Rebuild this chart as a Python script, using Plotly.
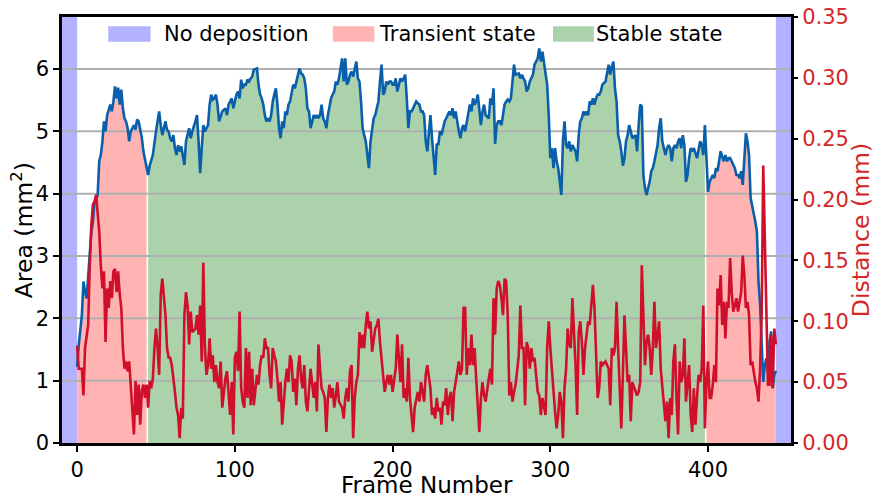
import plotly.graph_objects as go

# ---- data -------------------------------------------------------------
frames_area = [
    0, 1, 3, 4, 5, 6, 7, 8, 9, 10, 11, 12, 13, 14, 15, 16, 17, 18, 19, 21, 22, 23, 24, 25, 26, 27, 28, 29, 30,
    31, 32, 33, 34, 35, 36, 37, 38, 39, 41, 42, 43, 44, 45, 46,
    48, 50, 52, 53, 54, 56, 57, 58, 59, 60, 61, 62, 63, 64, 65, 66, 67, 68, 69, 70, 71, 72, 73, 75, 76, 77,
    78, 79, 80, 81, 82, 83, 84, 85, 86, 87, 88, 89, 90, 91, 92, 94, 95, 96, 97, 98, 99, 100, 101, 102, 103,
    104, 105, 106,
    107, 108, 109, 110, 111, 112, 114, 115, 116, 117, 118, 119, 120, 121, 122, 123, 124, 125, 126, 127, 128,
    129, 130, 131, 132, 133, 134, 135, 136, 137, 138, 139, 140, 141, 142, 143, 144, 145, 146, 147, 148, 150,
    151, 152, 153, 154, 155, 156, 157, 158, 159,
    160, 161, 162, 163, 164, 165, 166, 168, 169, 170, 171, 172, 173, 174, 175, 176, 177, 178, 179, 180, 181,
    182, 183, 184, 185, 186, 187, 188, 189, 190, 191, 192, 193, 194, 195, 196, 197, 198, 199, 200, 201, 202,
    203, 205, 206, 207, 208, 209, 210, 211, 212, 213, 214, 215, 216, 217, 218,
    219, 220, 221, 222, 223, 224, 225, 226, 227, 228, 229, 230, 231, 232, 233, 234, 235, 236, 237, 238, 239,
    240, 242, 243, 244, 245, 246, 247, 248, 249, 250, 251, 252, 253, 254, 255, 256, 257, 258, 259, 261, 262,
    263, 264, 265, 266, 267, 268, 269, 270, 271, 272, 273, 274, 275, 276, 277,
    278, 280, 281, 282, 283, 284, 285, 286, 287, 288, 289, 290, 291, 292, 293, 294, 295, 297, 298, 299, 300,
    301, 302, 303, 304, 305, 306, 307, 308, 309, 310, 311, 312, 313, 314, 316, 317, 318, 319, 320, 321, 322,
    323, 324, 325, 326, 327, 328, 329, 330, 331, 332, 333, 335,
    337, 338, 339, 340, 341, 342, 343, 344, 345, 346, 347, 348, 349, 350, 351, 352, 354, 355, 356, 357, 358,
    359, 360, 361, 362, 363, 364, 365, 366, 367, 368, 369, 370, 371, 373, 374, 375, 376, 377, 378, 379, 380,
    381, 382, 383, 384, 385, 386, 387, 388, 389, 390, 391,
    393, 394, 395, 396, 397, 398, 399, 400, 401, 402, 403, 404, 405, 406, 407, 408, 410, 411, 412, 413, 414,
    415, 416, 417, 418, 419, 420, 421, 422, 423, 424, 425, 426, 427, 428, 429, 430, 431, 432, 433, 434, 435,
    436, 437, 438, 439, 440, 441, 442, 443,
]
area_mm2 = [
    1.22, 1.57, 2.05, 2.59, 2.43, 2.32, 2.67, 3.12, 3.39, 3.55, 3.87, 3.90, 3.98, 4.52, 4.62, 4.83, 5.16, 5.00,
    5.26, 5.43, 5.32, 5.48, 5.72, 5.53, 5.70, 5.43, 5.67, 5.37, 5.21,
    5.16, 5.05, 4.84, 5.00, 5.05, 5.10, 5.03, 5.19, 5.16, 4.90, 4.68, 4.57, 4.45, 4.30, 4.45,
    4.62, 5.00, 5.32, 5.10, 4.94, 5.16, 5.02, 5.00, 4.89, 4.84, 4.94, 4.73, 4.62, 4.78, 4.68, 4.76, 4.62, 4.46,
    4.84, 4.94, 5.05, 4.89, 5.00, 5.16, 5.26, 4.84,
    4.33, 4.73, 5.10, 5.00, 5.05, 5.10, 5.43, 5.59, 5.51, 5.53, 5.59, 5.43, 5.16, 5.26, 5.32, 5.37, 5.26, 5.43,
    5.48, 5.53, 5.37, 5.48, 5.59, 5.64, 5.53,
    5.83, 5.69, 5.75,
    5.75, 5.83, 5.80, 5.85, 5.88, 5.99, 6.01, 5.75, 5.59, 5.53, 5.43, 5.26, 5.16, 5.21, 5.16, 5.26, 5.48, 5.59,
    5.69, 5.43, 5.05,
    4.89, 5.16, 5.05, 5.32, 5.26, 5.43, 5.48, 5.64, 5.75, 5.69, 5.80, 5.91, 6.01, 5.93, 5.91, 5.85, 5.69, 5.37,
    5.32, 5.05, 5.26,
    5.21, 5.26, 5.21, 5.26, 5.43, 5.21, 5.16, 5.05, 5.26,
    5.43, 5.53, 5.59, 5.64, 5.80, 5.75, 5.85, 6.17, 5.80, 6.17, 5.75, 5.80, 5.91, 5.96, 5.88, 6.01, 6.12, 5.85,
    5.80, 5.48, 5.05,
    4.94, 4.84, 4.62, 4.41, 4.84, 5.05, 5.21, 5.26, 5.37, 5.48, 5.80, 6.07, 5.59, 5.64, 5.80, 5.75, 5.80, 5.80,
    5.75, 5.75, 5.85,
    5.64, 5.85, 5.80, 5.85, 5.91, 5.53, 5.05, 5.32, 5.32, 5.37, 5.43, 5.48, 5.45, 5.43, 5.32,
    5.32, 5.26, 4.84, 4.68, 5.00, 5.26, 4.89, 4.60, 4.30, 4.80, 4.78, 5.00, 4.94, 5.05, 5.16, 5.21, 5.26, 5.32,
    5.26, 5.37, 5.21,
    5.32, 5.00, 4.89, 5.05, 5.10, 5.00, 5.16, 5.26, 5.43, 5.32, 5.53, 5.43, 5.48, 5.59, 5.37, 5.10, 5.32, 5.43,
    5.26, 5.21, 5.53,
    5.43, 5.69, 4.80, 5.10, 5.16, 5.16, 5.10, 5.26, 5.43, 5.48, 5.51, 5.48, 5.53, 5.80, 6.07,
    5.91, 5.93, 5.85, 5.91, 5.85, 5.80, 5.64, 5.69, 5.80, 5.85, 5.91, 6.07, 6.12, 6.17, 6.33, 6.12, 6.28, 5.91,
    5.75, 5.26, 4.57,
    4.73, 4.41, 4.73, 4.52, 4.41, 4.19, 3.98, 4.84, 5.16, 4.78, 4.73, 4.84, 4.68, 4.78, 4.68, 4.52, 4.94, 5.16,
    5.21, 5.32, 5.26,
    5.32, 5.26, 5.48, 5.43, 5.53, 5.43, 5.53, 5.59, 5.59, 5.64, 5.75, 5.80,
    6.07, 5.91, 6.04, 6.12, 5.69, 5.48, 4.94, 4.84, 4.68, 4.45, 4.57, 4.84, 4.94, 5.10, 5.00, 4.89, 4.94, 4.68,
    5.10, 5.43, 5.40,
    4.30, 4.09, 3.98, 4.09, 4.19, 4.36, 4.41, 4.52, 4.68, 4.78, 5.05, 5.21, 4.84, 4.62, 4.73, 4.78, 4.73, 4.52,
    4.73, 4.78, 4.73,
    4.84, 4.89, 4.73, 4.94, 4.78, 4.19, 4.30, 4.57, 4.73, 4.68, 4.73,
    4.57, 4.73, 4.84, 4.78, 4.62, 5.10, 4.62, 4.03, 4.19, 4.25, 4.30, 4.25, 4.41, 4.36, 4.57, 4.68, 4.52, 4.62,
    4.52, 4.57, 4.57,
    4.52, 4.46, 4.41, 4.30, 4.30, 4.25, 4.36, 4.14, 4.52, 4.97, 4.84, 4.62, 3.93, 3.82, 3.66, 3.55, 3.39, 2.59,
    2.22, 1.47, 0.98,
    1.25, 1.36, 1.14, 1.63, 1.79, 0.88, 1.09, 1.16,
]

frames_dist = [
    0, 1, 3, 4, 5, 6, 7, 8, 9, 10, 11, 12, 13, 14, 15, 16, 17, 18, 19, 20, 21, 22, 23, 24, 25, 26, 27, 28, 29,
    30, 31, 32, 33, 34, 35, 36, 37, 38, 39, 40, 41, 42, 43, 44, 45, 46, 47, 48, 49,
    50, 51, 52, 53, 54, 56, 57, 58, 59, 60, 61, 62, 63, 64, 65, 66, 67, 68, 69, 70, 71, 72, 73, 75, 76, 77,
    78, 79, 80, 81, 82, 83, 84, 85, 86, 87, 88, 89, 90, 91, 92, 94, 95, 96, 97, 98, 99, 100, 101, 102, 103,
    104, 105, 106,
    107, 108, 109, 110, 111, 112, 114, 115, 116, 117, 118, 119, 120, 121, 122, 123, 124, 125, 126, 127, 128,
    129, 130, 132, 133, 134, 135, 136, 137, 138, 139, 140, 141, 142, 143, 144, 145, 146, 147, 148, 150, 151,
    152, 153, 154, 155, 156, 157, 158, 159,
    160, 161, 162, 163, 164, 165, 166, 168, 169, 170, 171, 172, 173, 174, 175, 176, 177, 178, 179, 180, 181,
    182, 183, 184, 185, 186, 187, 189, 190, 191, 192, 193, 194, 195, 196, 197, 198, 199, 200, 201, 202, 203,
    205, 206, 207, 208, 209, 210, 211, 212, 213, 214, 215, 216, 217, 218,
    219, 220, 221, 222, 224, 225, 226, 227, 228, 229, 230, 231, 232, 233, 234, 235, 236, 237, 238, 239, 240,
    242, 243, 244, 245, 246, 247, 248, 249, 250, 251, 252, 253, 254, 255, 256, 257, 258, 259, 261, 262, 263,
    264, 265, 266, 267, 268, 269, 270, 271, 272, 273, 274, 275, 276, 277,
    278, 280, 281, 282, 283, 284, 285, 286, 287, 288, 289, 290, 291, 292, 293, 294, 295, 297, 298, 299, 300,
    301, 302, 303, 304, 305, 306, 307, 308, 309, 310, 311, 312, 313, 314, 316, 317, 318, 319, 320, 321, 322,
    323, 324, 325, 326, 327, 328, 329, 330, 331, 332, 333, 335,
    337, 338, 339, 340, 341, 342, 343, 344, 345, 346, 347, 348, 349, 350, 351, 352, 354, 355, 356, 357, 358,
    359, 360, 361, 362, 363, 364, 365, 366, 367, 368, 369, 370, 371, 373, 374, 375, 376, 377, 378, 379, 380,
    381, 382, 383, 384, 385, 386, 387,
    388, 389, 390, 391, 392, 393, 394, 395, 396, 397, 398, 399, 400, 401, 402, 403, 404, 405, 406, 407, 408,
    409, 410, 411, 412, 413, 414, 415, 416, 417, 418, 419, 420, 421, 422, 423, 424, 425, 426, 427, 428, 429,
    430, 431, 432, 433, 434, 435, 436, 437, 438, 439, 440, 441, 442, 443,
]
distance_mm = [
    0.080, 0.061, 0.061, 0.039, 0.078, 0.089, 0.097, 0.146, 0.179, 0.196, 0.198, 0.204, 0.187, 0.174, 0.146,
    0.127, 0.141, 0.083, 0.127, 0.111, 0.133, 0.119, 0.141, 0.143, 0.124, 0.141, 0.122, 0.111, 0.078,
    0.061, 0.067, 0.059, 0.067, 0.045, 0.029, 0.007, 0.051, 0.023, 0.048, 0.015, 0.043, 0.048, 0.037, 0.048,
    0.029, 0.051, 0.045, 0.053, 0.078,
    0.094, 0.078, 0.056, 0.122, 0.135, 0.105, 0.078, 0.070, 0.070, 0.064, 0.050, 0.042, 0.029, 0.023, 0.004,
    0.029, 0.020, 0.105, 0.124, 0.113, 0.081, 0.108, 0.091, 0.094, 0.105, 0.089,
    0.113, 0.067, 0.148, 0.078, 0.056, 0.064, 0.086, 0.061, 0.072, 0.050, 0.064, 0.050, 0.045, 0.067, 0.029,
    0.053, 0.059, 0.042, 0.023, 0.050, 0.007, 0.070, 0.075, 0.059, 0.108,
    0.045, 0.034, 0.029,
    0.078, 0.037, 0.075, 0.031, 0.061, 0.031, 0.056, 0.048, 0.064, 0.072, 0.070, 0.086, 0.078, 0.078, 0.056,
    0.045, 0.078, 0.072, 0.067, 0.053, 0.034,
    0.050, 0.015, 0.050, 0.061, 0.050, 0.072, 0.067, 0.042, 0.053, 0.031, 0.061, 0.072, 0.053, 0.045, 0.064,
    0.034, 0.026, 0.045, 0.061, 0.037, 0.050,
    0.026, 0.081, 0.061, 0.045, 0.042, 0.037, 0.009, 0.037,
    0.048, 0.037, 0.045, 0.029, 0.039, 0.050, 0.034, 0.029, 0.020, 0.037, 0.045, 0.034, 0.059, 0.064, 0.004,
    0.037, 0.050, 0.056, 0.091, 0.078, 0.089,
    0.078, 0.097, 0.108, 0.094, 0.100, 0.075, 0.094, 0.097, 0.102, 0.083, 0.070, 0.056, 0.042, 0.050, 0.056,
    0.048, 0.056, 0.042, 0.050, 0.061, 0.089,
    0.050, 0.081, 0.037, 0.045, 0.034, 0.070, 0.037, 0.023, 0.009, 0.029, 0.037, 0.042, 0.034, 0.050,
    0.042, 0.034, 0.056, 0.064, 0.045, 0.023, 0.029, 0.020, 0.037, 0.026, 0.029, 0.015, 0.034, 0.031, 0.045,
    0.023, 0.037, 0.042, 0.018, 0.042, 0.050,
    0.067, 0.056, 0.061, 0.111, 0.111, 0.056, 0.078, 0.064, 0.089, 0.064, 0.078, 0.053, 0.026, 0.009, 0.037,
    0.050, 0.039, 0.034, 0.053, 0.061, 0.048,
    0.119, 0.089, 0.127, 0.133, 0.130, 0.119, 0.105, 0.135, 0.133, 0.105, 0.039, 0.050, 0.034, 0.042,
    0.048, 0.072, 0.113, 0.078, 0.078, 0.031, 0.083, 0.078, 0.061, 0.078, 0.067, 0.070, 0.056, 0.042, 0.039,
    0.023, 0.037, 0.023, 0.078, 0.100, 0.078,
    0.059, 0.042, 0.026, 0.012, 0.023, 0.042, 0.034, 0.004, 0.045, 0.061, 0.094, 0.081, 0.078, 0.119, 0.064,
    0.023, 0.091, 0.100, 0.083, 0.056, 0.078,
    0.089, 0.100, 0.097, 0.116, 0.130, 0.111, 0.078, 0.037, 0.045, 0.067, 0.064, 0.067,
    0.061, 0.031, 0.078, 0.072, 0.078, 0.116, 0.078, 0.042, 0.012, 0.056, 0.105, 0.078, 0.050, 0.056, 0.018,
    0.050, 0.042, 0.039, 0.042, 0.050, 0.146,
    0.105, 0.064, 0.083, 0.089, 0.078, 0.056, 0.078, 0.116, 0.078, 0.091, 0.100, 0.061, 0.048, 0.018, 0.034,
    0.004, 0.037, 0.023, 0.067, 0.081, 0.037,
    0.007, 0.067, 0.050, 0.056, 0.086, 0.034, 0.050,
    0.064, 0.023, 0.009, 0.045, 0.015, 0.037, 0.056, 0.050, 0.061, 0.113, 0.012, 0.050, 0.067, 0.037, 0.037,
    0.048, 0.064, 0.050, 0.127, 0.113, 0.138,
    0.097, 0.116, 0.086, 0.116, 0.111, 0.152, 0.124, 0.108, 0.113, 0.119, 0.108, 0.116, 0.124, 0.154, 0.138,
    0.111, 0.116, 0.105, 0.064, 0.067, 0.056,
    0.050, 0.045, 0.034, 0.061, 0.105, 0.228, 0.160, 0.091, 0.048, 0.048, 0.089, 0.045, 0.094, 0.081,
]

# frame intervals of each deposition phase
transient_start = [0, 44]
stable = [45, 398]
transient_end = [399, 443]
no_deposition = [[-10, 0], [443, 454]]

frame_ticks = [0, 100, 200, 300, 400]
area_ticks = [0, 1, 2, 3, 4, 5, 6]
dist_ticks = [0.00, 0.05, 0.10, 0.15, 0.20, 0.25, 0.30, 0.35]

legend_labels = ["No deposition", "Transient state", "Stable state"]

# ---- styling ----------------------------------------------------------
FONT = "DejaVu Sans"
BLUE_BAND = "rgb(178,178,255)"
PINK = "rgb(255,179,179)"
GREEN = "rgb(172,210,172)"
AREA_LINE = "#0a5fab"
DIST_LINE = "#d0102a"
RED_TEXT = "#d62728"
GRID = "#b0b0b0"
TICK_SIZE = 21
TITLE_SIZE = 23.5

x_range = [-9.6, 452.6]
area_range = [0, 6.835]
dist_range = [0, 0.35]

fig = go.Figure()


def phase(lo, hi):
    xs = [f for f in frames_area if lo <= f <= hi]
    ys = [a for f, a in zip(frames_area, area_mm2) if lo <= f <= hi]
    return xs, ys


# coloured fill under the area curve for each phase
for (lo, hi), colour in [(transient_start, PINK), (stable, GREEN), (transient_end, PINK)]:
    xs, ys = phase(lo, hi)
    fig.add_trace(go.Scatter(x=xs, y=ys, mode="lines", line=dict(width=0),
                             fill="tozeroy", fillcolor=colour,
                             hoverinfo="skip", showlegend=False))

# horizontal grid lines drawn above the fills
gx, gy = [], []
for t in area_ticks[1:]:
    gx += [x_range[0], x_range[1], None]
    gy += [t, t, None]
fig.add_trace(go.Scatter(x=gx, y=gy, mode="lines", line=dict(color=GRID, width=2),
                         hoverinfo="skip", showlegend=False))

fig.add_trace(go.Scatter(x=frames_area, y=area_mm2, mode="lines",
                         line=dict(color=AREA_LINE, width=2.6), showlegend=False))
fig.add_trace(go.Scatter(x=frames_dist, y=distance_mm, mode="lines", yaxis="y2",
                         line=dict(color=DIST_LINE, width=2.6), showlegend=False))

shapes = []
for lo, hi in no_deposition:
    shapes.append(dict(type="rect", xref="x", yref="paper", x0=lo, x1=hi, y0=0, y1=1,
                       fillcolor=BLUE_BAND, line=dict(width=0), layer="below"))

# legend: coloured patches with labels
legend_patch_x = [[0.0635, 0.1215], [0.3715, 0.4285], [0.6735, 0.7295]]
legend_text_x = [0.1375, 0.4325, 0.7300]
annotations = []
for (x0, x1), tx, label, colour in zip(legend_patch_x, legend_text_x, legend_labels,
                                       [BLUE_BAND, PINK, GREEN]):
    shapes.append(dict(type="rect", xref="paper", yref="paper", x0=x0, x1=x1,
                       y0=0.942, y1=0.978, fillcolor=colour, line=dict(width=0), layer="above"))
    annotations.append(dict(xref="paper", yref="paper", x=tx, y=0.960, text=label,
                            showarrow=False, xanchor="left", yanchor="middle",
                            font=dict(family=FONT, size=21, color="black")))

# axis titles for the frame and area axes
annotations.append(dict(xref="paper", yref="paper", x=0.5, y=-0.0986, text="Frame Number",
                        showarrow=False, xanchor="center", yanchor="middle", borderpad=0,
                        font=dict(family=FONT, size=23, color="black")))
annotations.append(dict(xref="paper", yref="paper", x=-0.0545, y=0.5,
                        text="Area (mm<sup>2</sup>)", textangle=-90,
                        showarrow=False, xanchor="center", yanchor="middle", borderpad=0,
                        font=dict(family=FONT, size=TITLE_SIZE, color="black")))

axis_common = dict(ticks="outside", ticklen=6, tickwidth=2, tickcolor="black",
                   showgrid=False, zeroline=False, automargin=False)

fig.update_layout(
    width=875, height=500,
    margin=dict(l=62, r=84, t=17, b=57, autoexpand=False),
    paper_bgcolor="white", plot_bgcolor="white",
    font=dict(family=FONT, size=TICK_SIZE, color="black"),
    showlegend=False,
    shapes=shapes,
    annotations=annotations,
    xaxis=dict(range=x_range, tickvals=frame_ticks, showline=True, linewidth=2.5,
               linecolor="black", mirror=True,
               tickfont=dict(size=TICK_SIZE), **axis_common),
    yaxis=dict(range=area_range, tickvals=area_ticks, showline=True, linewidth=2.5,
               linecolor="black", mirror=True,
               tickfont=dict(size=TICK_SIZE), **axis_common),
    yaxis2=dict(range=dist_range, tickvals=dist_ticks, tickformat=".2f", overlaying="y",
                side="right", showline=False,
                title=dict(text="Distance (mm)", font=dict(size=TITLE_SIZE, color=RED_TEXT),
                           standoff=5),
                tickfont=dict(size=TICK_SIZE, color=RED_TEXT), **axis_common),
)

fig.write_html("out.html")
